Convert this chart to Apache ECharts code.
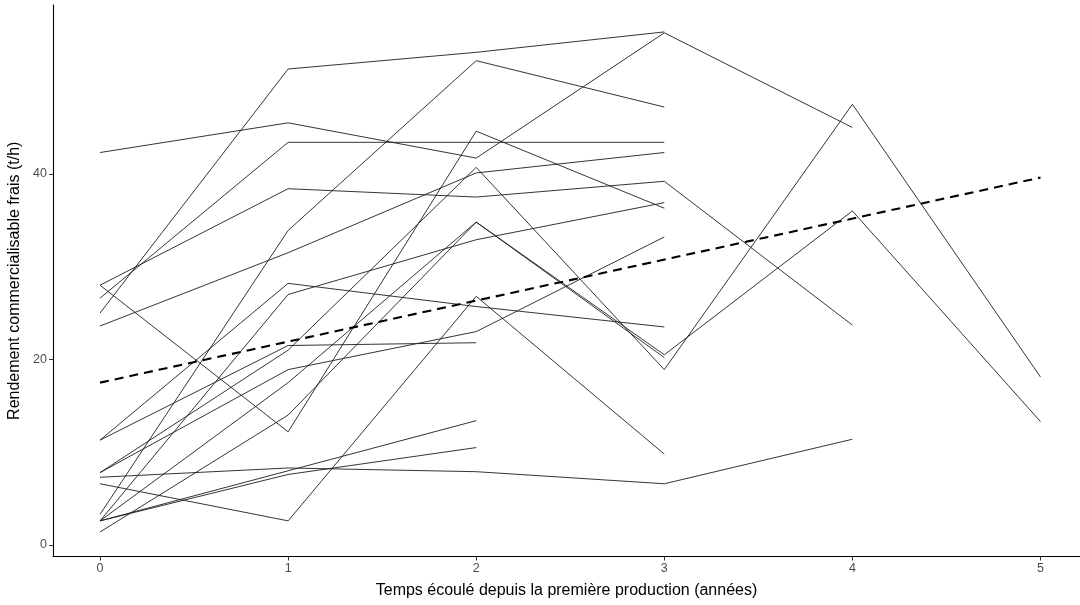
<!DOCTYPE html>
<html><head><meta charset="utf-8">
<script src="https://cdn.jsdelivr.net/npm/echarts@6/dist/echarts.min.js"></script>
<style>html,body{margin:0;padding:0;background:#fff}#c{width:1080px;height:605px}</style>
</head><body><div id="c"></div>
<script>
const years = [0, 1, 2, 3, 4, 5];
const xTicks = [0, 1, 2, 3, 4, 5];
const yTicks = [0, 20, 40];
// one array per plot (values by year since first production)
const plotA = [42.3, 45.5, 41.7, 55.2, 45.0];
const plotB = [25.0, 51.3, 53.1, 55.3];
const plotC = [3.3, 33.9, 52.2, 47.2];
const plotD = [6.6, 2.6, 26.8, 9.8];
const plotE = [7.3, 8.3, 7.9, 6.6, 11.4];
const plotF = [2.6, 7.6, 10.5];
const plotG = [2.6, 8.0, 13.4];
const plotH = [28.0, 38.4, 37.5, 39.2, 23.7];
const plotI = [26.6, 43.4, 43.4, 43.4];
const plotJ = [23.6, 31.5, 40.1, 42.3];
const plotK = [28.0, 12.2, 44.6, 36.3];
const plotL = [2.6, 17.5, 34.8, 20.5, 36.0, 13.3];
const plotM = [1.4, 14.0, 34.8, 20.2];
const plotN = [7.8, 21.0, 40.7, 18.9, 47.5, 18.1];
const plotO = [11.3, 28.2, 25.7, 23.5];
const plotP = [11.3, 21.5, 21.8];
const plotQ = [7.8, 18.9, 23.0, 33.2];
const plotR = [2.6, 27.0, 32.9, 36.9];
const trendYears = [0, 5];
const trendValues = [17.5, 39.6];

const plots = [plotA, plotB, plotC, plotD, plotE, plotF, plotG, plotH, plotI,
  plotJ, plotK, plotL, plotM, plotN, plotO, plotP, plotQ, plotR];

const series = plots.map(function (vals) {
  return {
    type: 'line', silent: true, symbol: 'none', animation: false,
    data: vals.map(function (v, i) { return [years[i], v]; }),
    lineStyle: { color: '#1e1e1e', width: 0.9 }
  };
});
series.push({
  type: 'line', silent: true, symbol: 'none', animation: false, z: 5,
  data: trendYears.map(function (x, i) { return [x, trendValues[i]]; }),
  lineStyle: { color: '#000', width: 2.1, type: [9, 6] }
});

const font = '"Liberation Sans", Arial, sans-serif';
const chart = echarts.init(document.getElementById('c'), null, { renderer: 'canvas' });
chart.setOption({
  animation: false,
  backgroundColor: '#ffffff',
  grid: { left: 53, right: 0, top: 5, bottom: 48.5, containLabel: false, outerBoundsMode: 'none' },
  xAxis: {
    type: 'value', min: -0.25, max: 5.21,
    name: 'Temps écoulé depuis la première production (années)',
    nameLocation: 'middle', nameGap: 26,
    nameTextStyle: { color: '#000', fontSize: 16, fontFamily: font },
    axisLine: { show: true, onZero: false, lineStyle: { color: '#000', width: 1.1 } },
    axisTick: { show: true, length: 4, customValues: xTicks, lineStyle: { color: '#333', width: 1 } },
    axisLabel: { customValues: xTicks, color: '#4d4d4d', fontSize: 12.5, fontFamily: font, margin: 6 },
    splitLine: { show: false }
  },
  yAxis: {
    type: 'value', min: -1.24, max: 58.2,
    name: 'Rendement commercialisable frais (t/h)',
    nameLocation: 'middle', nameGap: 28, nameRotate: 90,
    nameTextStyle: { color: '#000', fontSize: 16, fontFamily: font },
    axisLine: { show: true, onZero: false, lineStyle: { color: '#000', width: 1.1 } },
    axisTick: { show: true, length: 4, customValues: yTicks, lineStyle: { color: '#333', width: 1 } },
    axisLabel: { customValues: yTicks, color: '#4d4d4d', fontSize: 12.5, fontFamily: font, margin: 6 },
    splitLine: { show: false }
  },
  series: series
});
</script></body></html>
